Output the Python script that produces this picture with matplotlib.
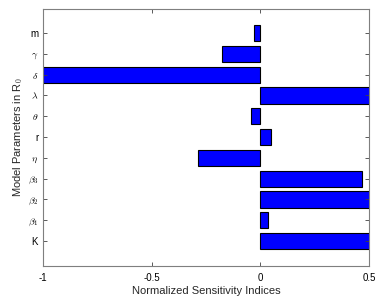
import numpy as np
import matplotlib.pyplot as plt

# parameter names (bottom to top) and normalized sensitivity indices
params = ['K', r'$\beta_\mathsf{1}$', r'$\beta_\mathsf{2}$', r'$\beta_\mathsf{3}$', r'$\eta$', 'r',
          r'$\theta$', r'$\lambda$', r'$\delta$', r'$\gamma$', 'm']
indices = [1.0, 0.037, 1.0, 0.47, -0.286, 0.049,
           -0.043, 1.0, -1.0, -0.177, -0.03]

plt.rcParams['font.family'] = ['Liberation Sans', 'DejaVu Sans']
plt.rcParams['mathtext.fontset'] = 'cm'

fig = plt.figure(figsize=(3.83, 3.04), dpi=100)
ax = fig.add_axes([0.1123, 0.125, 0.851, 0.845])

pos = np.arange(1, len(params) + 1)
ax.barh(pos, indices, height=0.78, color='#0000ff', edgecolor='black', linewidth=0.8)

ax.set_xlim(-1, 0.5)
ax.set_ylim(-0.2, 12.15)
ax.set_xticks([-1, -0.5, 0, 0.5])
ax.set_xticklabels(['-1', '-0.5', '0', '0.5'])
ax.set_yticks(pos)
ax.set_yticklabels(params)
for lab in ax.get_yticklabels():
    if '$' in lab.get_text():
        lab.set_color('#555555')
        lab.set_fontsize(8)

ax.tick_params(direction='in', length=3, width=0.6, labelsize=7,
               top=True, right=True, colors='#404040', labelcolor='black')
ax.tick_params(axis='x', pad=5)
for s in ax.spines.values():
    s.set_color('#7f7f7f')
    s.set_linewidth(0.8)

ax.set_xlabel('Normalized Sensitivity Indices', fontsize=8, color='#262626', labelpad=2)
ax.set_ylabel(r'Model Parameters in R$_0$', fontsize=8, color='#262626', labelpad=2)

fig.savefig('out.png', dpi=100)
